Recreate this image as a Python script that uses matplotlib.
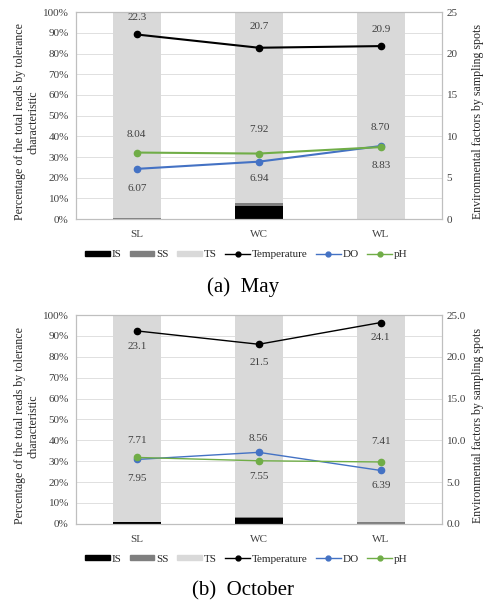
import matplotlib
matplotlib.use("Agg")
import matplotlib.pyplot as plt
from matplotlib.patches import Patch
from matplotlib.lines import Line2D
import numpy as np

plt.rcParams['font.family'] = ['Liberation Serif', 'DejaVu Serif']

sites = ["SL", "WC", "WL"]

# May
may_IS = [0.0, 6.5, 0.0]
may_SS = [0.5, 1.5, 0.0]
may_temp = [22.3, 20.7, 20.9]
may_DO = [6.07, 6.94, 8.83]
may_pH = [8.04, 7.92, 8.70]

# October
oct_IS = [1.0, 3.0, 0.0]
oct_SS = [0.0, 0.3, 1.0]
oct_temp = [23.1, 21.5, 24.1]
oct_DO = [7.71, 8.56, 6.39]
oct_pH = [7.95, 7.55, 7.41]

# label offsets in points (style only)
may_off = {"temp": [12, 15, 12], "DO": [-14, -12, -14], "pH": [13, 17, 14]}
oct_off = {"temp": [-11, -13, -11], "DO": [14, 10, -11], "pH": [-15, -11, 15]}

C_IS, C_SS, C_TS = "#000000", "#7f7f7f", "#d9d9d9"
C_T, C_DO, C_PH = "#000000", "#4472c4", "#70ad47"
LBL = "#404040"

fig = plt.figure(figsize=(4.86, 6.07), dpi=100)


def panel(rect, IS, SS, temp, DO, pH, off, rfmt, lw, legy, caption, capy):
    ax = fig.add_axes(rect)
    x = np.arange(len(sites))
    IS = np.array(IS); SS = np.array(SS)
    TS = 100 - IS - SS
    w = 0.39
    ax.bar(x, IS, w, color=C_IS, zorder=2)
    ax.bar(x, SS, w, bottom=IS, color=C_SS, zorder=2)
    ax.bar(x, TS, w, bottom=IS + SS, color=C_TS, zorder=2)
    ax.set_xlim(-0.5, 2.5)
    ax.set_ylim(0, 100)
    ax.set_yticks(np.arange(0, 101, 10))
    ax.set_yticklabels([f"{v}%" for v in range(0, 101, 10)])
    ax.set_xticks(x)
    ax.set_xticklabels(sites)
    ax.grid(axis='y', color="#e0e0e0", lw=0.7, zorder=0)
    ax.set_axisbelow(True)
    for s in ax.spines.values():
        s.set_color("#bfbfbf")
        s.set_linewidth(0.8)
    ax.tick_params(length=0, labelsize=8, colors="#404040", pad=5)
    ax.tick_params(axis='x', pad=8)
    ycen = rect[1] + rect[3] * 0.47
    fig.text(0.055, ycen, "Percentage of the total reads by tolerance\ncharacteristic",
             rotation=90, ha='center', va='center', fontsize=8.6, color="#262626",
             linespacing=1.1)

    ax2 = ax.twinx()
    ax2.set_ylim(0, 25)
    ax2.set_yticks(np.arange(0, 26, 5))
    ax2.set_yticklabels([rfmt.format(v) for v in range(0, 26, 5)])
    for s in ax2.spines.values():
        s.set_color("#bfbfbf")
        s.set_linewidth(0.8)
    ax2.tick_params(length=0, labelsize=8, colors="#404040", pad=3.5)
    fig.text(0.984, ycen, "Environmental factors by sampling spots",
             rotation=90, ha='center', va='center', fontsize=8.6, color="#262626")
    for vals, c, key, fmt in [(temp, C_T, "temp", "{:.1f}"),
                              (DO, C_DO, "DO", "{:.2f}"),
                              (pH, C_PH, "pH", "{:.2f}")]:
        ax2.plot(x, vals, color=c, lw=lw, marker='o', ms=4.5, zorder=3)
        for xi, v, o in zip(x, vals, off[key]):
            ax2.annotate(fmt.format(v), (xi, v), xytext=(0, o),
                         textcoords='offset points', ha='center', va='center',
                         fontsize=8, color=LBL)

    handles = [Patch(color=C_IS, label="IS"), Patch(color=C_SS, label="SS"),
               Patch(color=C_TS, label="TS"),
               Line2D([], [], color=C_T, lw=1, marker='o', ms=3.5, label="Temperature"),
               Line2D([], [], color=C_DO, lw=1, marker='o', ms=3.5, label="DO"),
               Line2D([], [], color=C_PH, lw=1, marker='o', ms=3.5, label="pH")]
    fig.legend(handles=handles, loc='center', bbox_to_anchor=(0.507, legy), ncol=6,
               frameon=False, fontsize=8, handlelength=2.2, handleheight=0.4,
               handletextpad=0.2, columnspacing=0.75, labelcolor="#262626")
    fig.text(0.5, capy, caption, ha='center', va='center', fontsize=15)


panel([0.156, 0.639, 0.753, 0.341], may_IS, may_SS, may_temp, may_DO, may_pH,
      may_off, "{:d}", 1.5, 0.580, "(a)  May", 0.527)
panel([0.156, 0.137, 0.753, 0.344], oct_IS, oct_SS, oct_temp, oct_DO, oct_pH,
      oct_off, "{:.1f}", 1.0, 0.079, "(b)  October", 0.026)

fig.savefig("out.png", dpi=100)
